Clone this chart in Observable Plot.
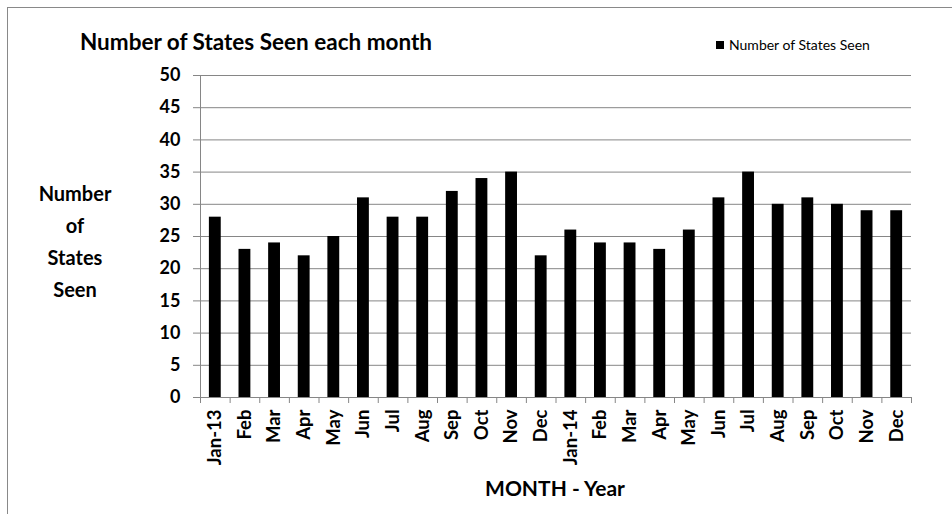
<!DOCTYPE html>
<html>
<head>
<meta charset="utf-8">
<script src="https://cdn.jsdelivr.net/npm/d3@7"></script>
<script src="https://cdn.jsdelivr.net/npm/@observablehq/plot@0.6"></script>
<style>
  html, body { margin: 0; padding: 0; background: #fff; }
  #wrap { position: relative; width: 952px; height: 514px; overflow: hidden; font-family: Lato, "Liberation Sans", sans-serif; }
  #frame { position: absolute; left: 7px; top: 7px; width: 1000px; height: 1000px; border: 1px solid #898989; box-sizing: border-box; }
  #chart { position: absolute; left: 0; top: 0; }
  .title { position: absolute; left: 80px; top: 28px; font-size: 22.5px; font-weight: bold; color: #000; white-space: nowrap; }
  .legend { position: absolute; left: 716px; top: 36px; font-size: 14px; color: #000; white-space: nowrap; display: flex; align-items: center; }
  .legend .sw { width: 8px; height: 8px; background: #000; margin-right: 5px; }
  .ylab { position: absolute; left: 25px; top: 177px; width: 100px; text-align: center; font-size: 20px; font-weight: bold; line-height: 32px; color: #000; }
  .xlab { position: absolute; left: 455px; top: 475px; width: 200px; text-align: center; font-size: 21px; font-weight: bold; color: #000; white-space: nowrap; }
</style>
</head>
<body>
<div id="wrap">
  <div id="frame"></div>
  <div id="chart"></div>
  <div class="title">Number of States Seen each month</div>
  <div class="legend"><div class="sw"></div><span>Number of States Seen</span></div>
  <div class="ylab">Number<br>of<br>States<br>Seen</div>
  <div class="xlab">MONTH - Year</div>
</div>
<script>
const months = ["Jan-13","Feb","Mar","Apr","May","Jun","Jul","Aug","Sep","Oct","Nov","Dec",
                "Jan-14","Feb","Mar","Apr","May","Jun","Jul","Aug","Sep","Oct","Nov","Dec"];
const statesSeen = [28,23,24,22,25,31,28,28,32,34,35,22,26,24,24,23,26,31,35,30,31,30,29,29];
const yTicks = [0,5,10,15,20,25,30,35,40,45,50];

const data = months.map((m, i) => ({i, m, v: statesSeen[i]}));
const boundaries = d3.range(months.length + 1);
const centers = data.map(d => d.i + 0.5);

const chart = Plot.plot({
  width: 952,
  height: 514,
  marginLeft: 200,
  marginRight: 41,
  marginTop: 75,
  marginBottom: 117,
  style: {fontFamily: "Lato, 'Liberation Sans', sans-serif", background: "transparent", color: "#000"},
  x: {type: "linear", domain: [0, months.length]},
  y: {domain: [0, 50]},
  marks: [
    Plot.gridY(yTicks, {stroke: "#868686", strokeOpacity: 1}),
    Plot.rectY(data, {x1: d => d.i + 0.3, x2: d => d.i + 0.7, y: "v", fill: "#000"}),
    Plot.ruleX([0], {stroke: "#868686"}),
    Plot.ruleY([0], {stroke: "#868686"}),
    Plot.axisY(yTicks, {tickSize: 7, tickPadding: 13, stroke: "#868686", fill: "#000", fontSize: 18, fontWeight: "bold", label: null}),
    Plot.axisX(boundaries, {tickSize: 6, stroke: "#868686", tickFormat: () => "", label: null}),
    Plot.axisX(centers, {tickSize: 0, tickPadding: 12, tickRotate: -90, fill: "#000", fontSize: 18.5, fontWeight: "bold", tickFormat: x => months[Math.floor(x)], label: null})
  ]
});
document.getElementById("chart").appendChild(chart);
</script>
</body>
</html>
